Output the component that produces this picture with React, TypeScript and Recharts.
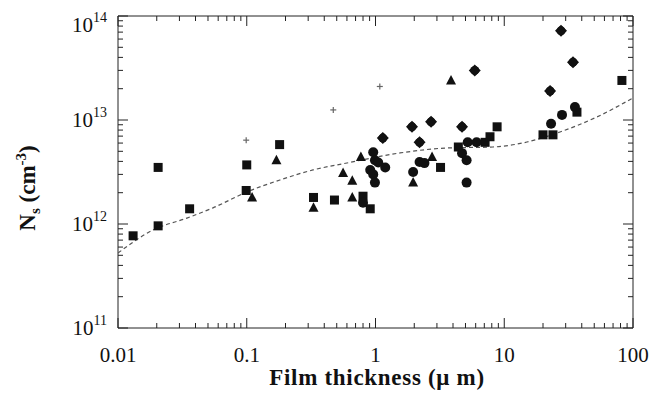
import React from 'react';
import { ScatterChart, Scatter, XAxis, YAxis } from 'recharts';

// ---- data (film thickness in µm, Ns in cm^-3) ----
const squareX = [0.0131, 0.0205, 0.0205, 0.036, 0.1, 0.099, 0.18, 0.33, 0.48, 0.8, 0.91, 3.2, 4.4, 7.1, 7.75, 8.8, 20, 23.9, 36.7, 82];
const squareY = [7.7e11, 9.6e11, 3.5e12, 1.4e12, 3.7e12, 2.1e12, 5.8e12, 1.8e12, 1.7e12, 1.85e12, 1.4e12, 3.5e12, 5.5e12, 6.1e12, 6.9e12, 8.6e12, 7.2e12, 7.2e12, 1.19e13, 2.4e13];

const circleX = [0.96, 0.99, 0.91, 1.05, 1.19, 0.96, 0.99, 0.8, 2.2, 2.4, 1.96, 5.2, 6.1, 4.7, 5.1, 5.1, 35.4, 28.1, 23.1];
const circleY = [4.9e12, 4.1e12, 3.3e12, 3.9e12, 3.5e12, 3.0e12, 2.5e12, 1.6e12, 3.95e12, 3.85e12, 3.16e12, 6.1e12, 6.1e12, 4.8e12, 4.1e12, 2.5e12, 1.33e13, 1.12e13, 9.2e12];

const triangleX = [0.17, 0.11, 0.33, 0.77, 0.56, 0.66, 0.66, 3.86, 2.75, 1.96];
const triangleY = [4.1e12, 1.8e12, 1.43e12, 4.4e12, 3.1e12, 2.6e12, 1.8e12, 2.4e13, 4.4e12, 2.5e12];

const diamondX = [1.14, 1.92, 2.7, 4.7, 2.2, 5.9, 27.6, 34.2, 22.7];
const diamondY = [6.7e12, 8.6e12, 9.6e12, 8.6e12, 6.1e12, 3.0e13, 7.2e13, 3.6e13, 1.9e13];

const crossX = [0.099, 1.08, 0.47];
const crossY = [6.4e12, 2.1e13, 1.25e13];

const curveX = [0.01, 0.0187, 0.0343, 0.0547, 0.1, 0.181, 0.327, 0.6, 1.55, 3.59, 8.18, 15.0, 27.1, 52.5, 100];
const curveY = [5.26e11, 8.76e11, 1.14e12, 1.43e12, 2.03e12, 2.65e12, 3.31e12, 3.86e12, 4.82e12, 5.38e12, 5.5e12, 6.14e12, 7.67e12, 1.07e13, 1.63e13];

const xMajorTicks = [0.01, 0.1, 1, 10, 100];
const xTickLabels = ['0.01', '0.1', '1', '10', '100'];
const yMajorTicks = [1e11, 1e12, 1e13, 1e14];
const yTickExponents = ['11', '12', '13', '14'];

const xTitle = 'Film thickness (\u03bc m)';

// ---- helpers ----
const zip = (xs: number[], ys: number[]) => xs.map((x, i) => ({ x, y: ys[i] }));
const withMinor = (majors: number[]) => {
  const out: number[] = [];
  majors.forEach((m, i) => {
    out.push(m);
    if (i < majors.length - 1) for (let k = 2; k <= 9; k++) out.push(m * k);
  });
  return out;
};
const majorIndex = (majors: number[], v: number) => majors.findIndex((t) => Math.abs(t - v) / t < 1e-6);

const FONT = '"Liberation Serif", "Times New Roman", serif';
const INK = '#111';
const AXIS = '#222';

const xTicks = withMinor(xMajorTicks);
const yTicks = withMinor(yMajorTicks);

const XTick = (props: any) => {
  const { x, y, payload, side } = props;
  const idx = majorIndex(xMajorTicks, payload.value);
  const len = idx >= 0 ? 10 : 5;
  const dir = side === 'bottom' ? -1 : 1;
  return (
    <g>
      <line x1={x} x2={x} y1={y} y2={y + dir * len} stroke={AXIS} strokeWidth={1} />
      {side === 'bottom' && idx >= 0 && (
        <text x={x} y={y + 34} textAnchor="middle" fontSize={21} fontFamily={FONT} fill={INK}>
          {xTickLabels[idx]}
        </text>
      )}
    </g>
  );
};

const YTick = (props: any) => {
  const { x, y, payload, side } = props;
  const idx = majorIndex(yMajorTicks, payload.value);
  const len = idx >= 0 ? 10 : 5;
  const dir = side === 'left' ? 1 : -1;
  const exp = idx >= 0 ? yTickExponents[idx] : '';
  const shift = idx === yMajorTicks.length - 1 ? 9 : 0;
  return (
    <g>
      <line x1={x} x2={x + dir * len} y1={y} y2={y} stroke={AXIS} strokeWidth={1} />
      {side === 'left' && idx >= 0 && (
        <text x={x - 11} y={y + 7 + shift} textAnchor="end" fontSize={21} fontFamily={FONT} fill={INK}>
          <tspan>10</tspan>
          <tspan dy={-10} fontSize={14}>{exp}</tspan>
        </text>
      )}
    </g>
  );
};

const SquareShape = (p: any) => <rect x={p.cx - 4.5} y={p.cy - 4.5} width={9} height={9} fill={INK} />;
const CircleShape = (p: any) => <circle cx={p.cx} cy={p.cy} r={5} fill={INK} />;
const TriangleShape = (p: any) => (
  <path d={`M${p.cx},${p.cy - 5.5} L${p.cx + 5},${p.cy + 4} L${p.cx - 5},${p.cy + 4} Z`} fill={INK} />
);
const DiamondShape = (p: any) => (
  <g>
    <circle cx={p.cx} cy={p.cy} r={4.5} fill={INK} />
    <path
      d={`M${p.cx},${p.cy - 6} L${p.cx + 6},${p.cy} L${p.cx},${p.cy + 6} L${p.cx - 6},${p.cy} Z`}
      fill={INK}
    />
  </g>
);
const CrossShape = (p: any) => (
  <g stroke="#666" strokeWidth={1.2}>
    <line x1={p.cx - 3} x2={p.cx + 3} y1={p.cy} y2={p.cy} />
    <line x1={p.cx} x2={p.cx} y1={p.cy - 3} y2={p.cy + 3} />
  </g>
);
const NoShape = () => <g />;

const XTitle = () => (
  <text x={377} y={385} textAnchor="middle" fontSize={23} fontWeight="bold" letterSpacing={0.7} fontFamily={FONT} fill={INK}>
    {xTitle}
  </text>
);
const YTitle = () => (
  <text transform="translate(35,188) rotate(-90)" textAnchor="middle" fontSize={23} fontWeight="bold" fontFamily={FONT} fill={INK}>
    N<tspan fontSize={15} dy={5}>s</tspan>
    <tspan dy={-5}> (cm</tspan>
    <tspan fontSize={15} dy={-9}>-3</tspan>
    <tspan dy={9}>)</tspan>
  </text>
);

export default function App() {
  const common = { type: 'number' as const, scale: 'log' as const, allowDataOverflow: true, interval: 0 as const, tickSize: 0, tickMargin: 0 };
  return (
    <div style={{ position: 'absolute', left: 0, top: 0, width: 653, height: 396, background: '#fff' }}>
      <ScatterChart width={653} height={396} margin={{ top: 0, right: 0, bottom: 0, left: 0 }}>
        <XAxis
          {...common}
          xAxisId="b"
          dataKey="x"
          orientation="bottom"
          height={68}
          domain={[0.01, 100]}
          ticks={xTicks}
          axisLine={{ stroke: AXIS, strokeWidth: 1 }}
          tick={(p: any) => <XTick {...p} side="bottom" />}
          label={<XTitle />}
        />
        <XAxis
          {...common}
          xAxisId="t"
          dataKey="x"
          orientation="top"
          height={16}
          domain={[0.01, 100]}
          ticks={xTicks}
          axisLine={{ stroke: AXIS, strokeWidth: 1 }}
          tick={(p: any) => <XTick {...p} side="top" />}
        />
        <YAxis
          {...common}
          yAxisId="l"
          dataKey="y"
          orientation="left"
          width={118}
          domain={[1e11, 1e14]}
          ticks={yTicks}
          axisLine={{ stroke: AXIS, strokeWidth: 1 }}
          tick={(p: any) => <YTick {...p} side="left" />}
          label={<YTitle />}
        />
        <YAxis
          {...common}
          yAxisId="r"
          dataKey="y"
          orientation="right"
          width={20}
          domain={[1e11, 1e14]}
          ticks={yTicks}
          axisLine={{ stroke: AXIS, strokeWidth: 1 }}
          tick={(p: any) => <YTick {...p} side="right" />}
        />
        <Scatter
          xAxisId="t"
          yAxisId="r"
          data={zip(curveX, curveY)}
          line={{ stroke: '#555', strokeWidth: 1.2, strokeDasharray: '4 3' }}
          lineType="joint"
          lineJointType="monotoneX"
          shape={NoShape}
          isAnimationActive={false}
        />
        <Scatter xAxisId="b" yAxisId="l" data={zip(squareX, squareY)} shape={SquareShape} isAnimationActive={false} />
        <Scatter xAxisId="b" yAxisId="l" data={zip(circleX, circleY)} shape={CircleShape} isAnimationActive={false} />
        <Scatter xAxisId="b" yAxisId="l" data={zip(triangleX, triangleY)} shape={TriangleShape} isAnimationActive={false} />
        <Scatter xAxisId="b" yAxisId="l" data={zip(diamondX, diamondY)} shape={DiamondShape} isAnimationActive={false} />
        <Scatter xAxisId="b" yAxisId="l" data={zip(crossX, crossY)} shape={CrossShape} isAnimationActive={false} />
      </ScatterChart>
    </div>
  );
}
